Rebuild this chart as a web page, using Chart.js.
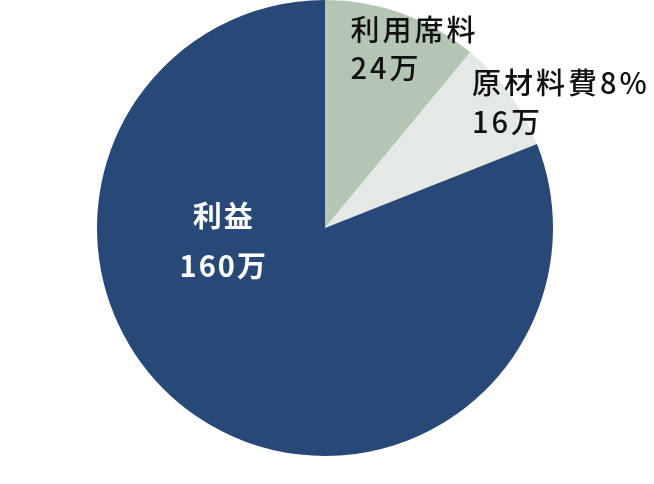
<!DOCTYPE html>
<html>
<head>
<meta charset="utf-8">
<script src="https://cdn.jsdelivr.net/npm/chart.js@4"></script>
<style>
html,body{margin:0;padding:0;background:#fff;}
#wrap{width:654px;height:484px;position:relative;}
</style>
</head>
<body>
<div id="wrap"><canvas id="c"></canvas></div>
<script>
// Data
const categories = ['利用席料', '原材料費', '利益'];
const shareValues = [11, 8, 81];          // slice sizes (%)
const amountLabels = ['24万', '16万', '160万'];
const nameLabels = ['利用席料', '原材料費8%', '利益'];
const sliceColors = ['#b3c6b4', '#e3e9e4', '#284877'];

const FONT = '"Noto Sans CJK JP","Noto Sans",sans-serif';

// label placement relative to pie centre, in units of radius
const labelPlace = [
  {dx: 0.112, dy1: -0.868, dy2: -0.700, align: 'left', color: '#111111', weight: '500', sp: '3px'},
  {dx: 0.645, dy1: -0.636, dy2: -0.465, align: 'left', color: '#111111', weight: '500', sp: '3px'},
  {dx: -0.444, dy1: -0.053, dy2: 0.167, align: 'center', color: '#ffffff', weight: '700', sp: '2px'}
];

const labelPlugin = {
  id: 'sliceLabels',
  afterDatasetsDraw(chart) {
    const ctx = chart.ctx;
    const meta = chart.getDatasetMeta(0);
    meta.data.forEach((arc, i) => {
      const p = labelPlace[i];
      const r = arc.outerRadius;
      ctx.save();
      ctx.fillStyle = p.color;
      ctx.font = p.weight + ' 29px ' + FONT;
      ctx.textAlign = p.align;
      ctx.textBaseline = 'middle';
      if ('letterSpacing' in ctx) ctx.letterSpacing = p.sp;
      ctx.fillText(nameLabels[i], arc.x + p.dx * r, arc.y + p.dy1 * r);
      ctx.fillText(amountLabels[i], arc.x + p.dx * r, arc.y + p.dy2 * r);
      ctx.restore();
    });
  }
};

new Chart(document.getElementById('c'), {
  type: 'pie',
  data: {
    labels: categories,
    datasets: [{
      data: shareValues,
      backgroundColor: sliceColors,
      borderWidth: 0
    }]
  },
  options: {
    responsive: true,
    maintainAspectRatio: false,
    animation: false,
    layout: {padding: {left: 97, right: 101, top: 0, bottom: 28}},
    plugins: {
      legend: {display: false},
      tooltip: {enabled: false}
    }
  },
  plugins: [labelPlugin]
});
</script>
</body>
</html>
